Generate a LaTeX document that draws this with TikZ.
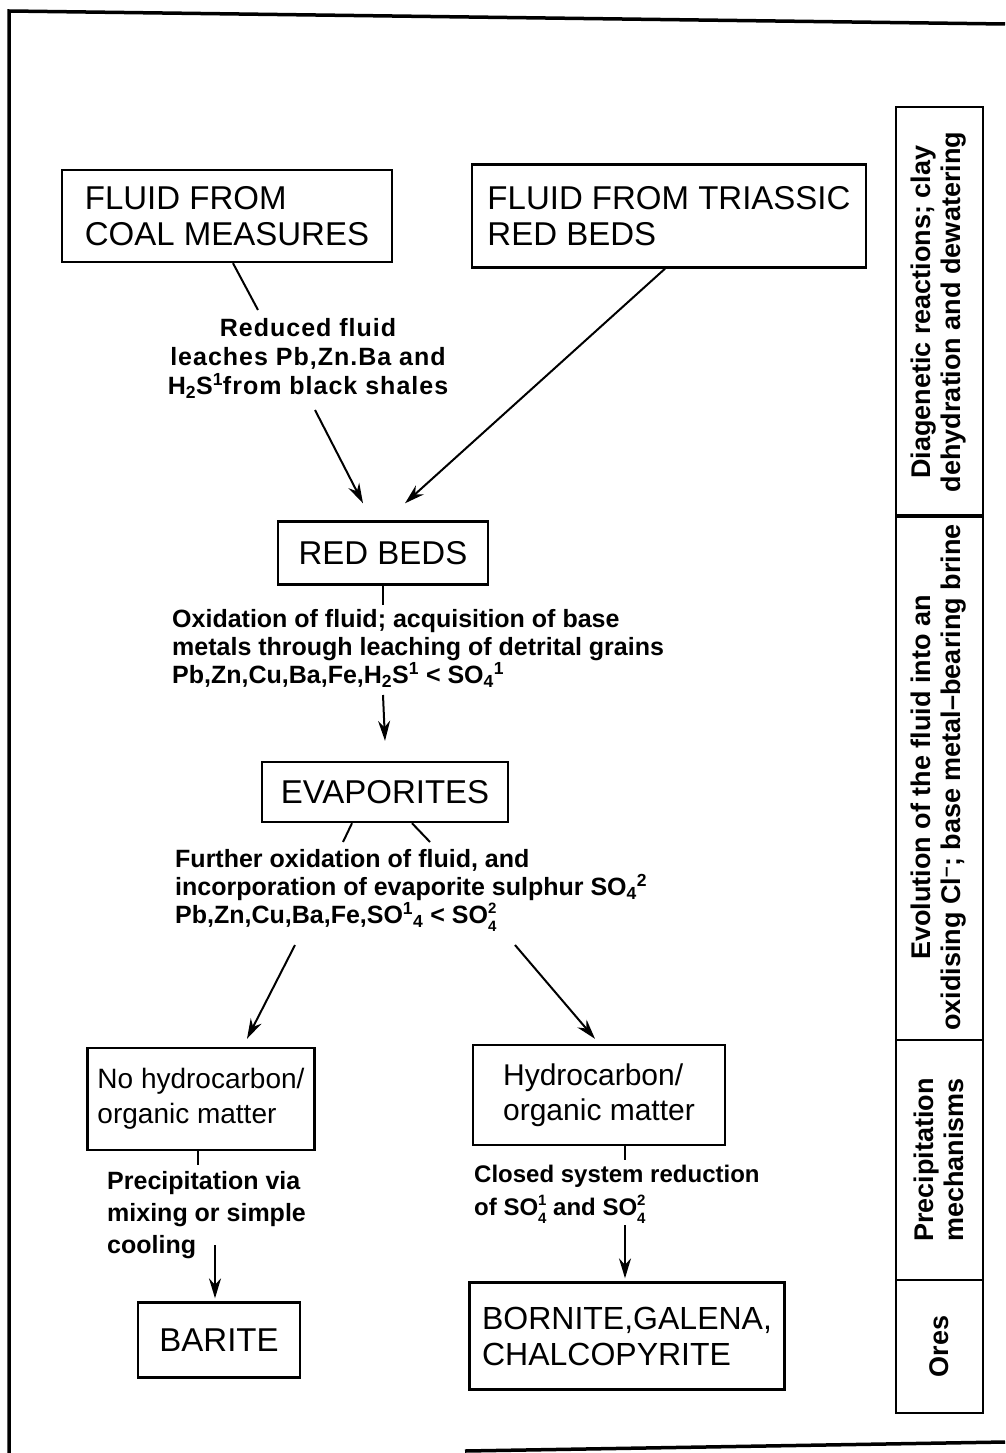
\documentclass[tikz,border=0pt]{standalone}
\usepackage{fontspec}
\setmainfont{Liberation Sans}
\usetikzlibrary{arrows.meta}

% SO4 with a stacked index
\newcommand{\sofour}[1]{SO\raisebox{-8pt}{\fontsize{15}{18}\selectfont\vbox{\hbox{#1}\hbox{4}}}}

\tikzset{
  box/.style={draw, line width=2.4pt, inner sep=0pt, align=left,
    font=\fontsize{33}{36}\selectfont},
  note/.style={inner sep=0pt, align=left, font=\bfseries\fontsize{25}{28}\selectfont},
  cell/.style={draw, line width=2pt, inner sep=0pt, rotate=90, align=center,
    minimum height=87pt, font=\bfseries\fontsize{27}{30}\selectfont},
  link/.style={line width=2pt},
}

\begin{document}
\begin{tikzpicture}[x=1pt,y=-1pt,>={Stealth[length=20pt,width=12pt]}]

\useasboundingbox (0,0) rectangle (1005,1453);

% Frame
\draw[line width=3.5pt] (9,1453) -- (9,11) -- (1005,24);
\draw[line width=3.5pt] (465,1451) -- (1005,1442);

% Sources
\node[box, minimum width=330pt, minimum height=92pt] (coal) at (227,216)
  {FLUID FROM\\COAL MEASURES};
\node[box, minimum width=394pt, minimum height=103pt] (trias) at (669,216)
  {FLUID FROM TRIASSIC\\RED BEDS};

\node[note, anchor=north, align=center,
  font=\bfseries\fontsize{25}{29}\selectfont\addfontfeature{LetterSpace=4}] (reduced) at (308,318)
  {Reduced fluid\\leaches Pb,Zn.Ba and\\H\textsubscript{2}S\textsuperscript{1}from black shales};

% Red beds
\node[box, minimum width=210pt, minimum height=63pt, align=center] (redbeds) at (383,553)
  {RED BEDS};
\node[note, anchor=north west] (oxid) at (172,609)
  {Oxidation of fluid; acquisition of base\\
   metals through leaching of detrital grains\\
   Pb,Zn,Cu,Ba,Fe,H\textsubscript{2}S\textsuperscript{1} < SO\textsubscript{4}\textsuperscript{1}};

% Evaporites
\node[box, minimum width=246pt, minimum height=60pt, align=center] (evap) at (385,792)
  {EVAPORITES};
\node[note, anchor=north west] (further) at (175,849)
  {Further oxidation of fluid, and\\
   incorporation of evaporite sulphur SO\textsubscript{4}\textsuperscript{2}\\
   Pb,Zn,Cu,Ba,Fe,SO\textsuperscript{1}\textsubscript{4} < \sofour{2}};

% Branches
\node[box, minimum width=227pt, minimum height=102pt, font=\fontsize{28}{35}\selectfont] (nohc) at (201,1099)
  {No hydrocarbon/\\organic matter};
\node[box, minimum width=252pt, minimum height=100pt, font=\fontsize{30}{35}\selectfont] (hc) at (599,1095)
  {Hydrocarbon/\\organic matter};

\node[note, anchor=north west, font=\bfseries\fontsize{25}{32}\selectfont] (precip) at (107,1171)
  {Precipitation via\\mixing or simple\\cooling};
\node[note, anchor=north west, font=\bfseries\fontsize{24}{33}\selectfont] (closed) at (474,1165)
  {Closed system reduction\\of \sofour{1} and \sofour{2}};

% Ores
\node[box, minimum width=162pt, minimum height=75pt] (barite) at (219,1340)
  {BARITE};
\node[box, minimum width=315pt, minimum height=107pt, font=\fontsize{32}{36}\selectfont] (bornite) at (627,1336)
  {BORNITE,GALENA,\\CHALCOPYRITE};

% Free ends of the connectors
\coordinate (c1) at (258,310);
\coordinate (a1) at (315,410);
\coordinate (c2) at (383,605);
\coordinate (a2) at (383,695);
\coordinate (c3) at (343,842);
\coordinate (c4) at (430,842);
\coordinate (a3) at (295,945);
\coordinate (a4) at (515,945);
\coordinate (c5) at (198,1165);
\coordinate (a5) at (215,1245);
\coordinate (c6) at (625,1160);
\coordinate (a6) at (625,1225);

% Connectors
\draw[link] ([xshift=6pt]coal.south) -- (c1);
\draw[link,->] (a1) -- ([xshift=-20pt,yshift=17pt]redbeds.north);
\draw[link,->] ([xshift=-4pt]trias.south) -- ([xshift=22pt,yshift=17pt]redbeds.north);
\draw[link] (redbeds.south) -- (c2);
\draw[link,->] (a2) -- ([yshift=20pt]evap.north);
\draw[link] ([xshift=-33pt]evap.south) -- (c3);
\draw[link] ([xshift=27pt]evap.south) -- (c4);
\draw[link,->] (a3) -- ([xshift=46pt,yshift=8pt]nohc.north);
\draw[link,->] (a4) -- ([xshift=-4pt,yshift=5pt]hc.north);
\draw[link] ([xshift=-3pt]nohc.south) -- (c5);
\draw[link,->] (a5) -- ([xshift=-4pt,yshift=3pt]barite.north);
\draw[link] ([xshift=26pt]hc.south) -- (c6);
\draw[link,->] (a6) -- ([xshift=-2pt,yshift=3pt]bornite.north);

% Stages column
\node[cell, minimum width=410pt] (diag) at (939,312)
  {Diagenetic reactions; clay\\dehydration and dewatering};
\node[cell, minimum width=525pt] (evol) at (939,777.5)
  {Evolution of the fluid into an\\oxidising Cl\textsuperscript{--}; base metal--bearing brine};
\node[cell, minimum width=240pt] (mech) at (939,1160)
  {Precipitation\\mechanisms};
\node[cell, minimum width=133pt] (ores) at (939,1346.5)
  {Ores};

\end{tikzpicture}
\end{document}
